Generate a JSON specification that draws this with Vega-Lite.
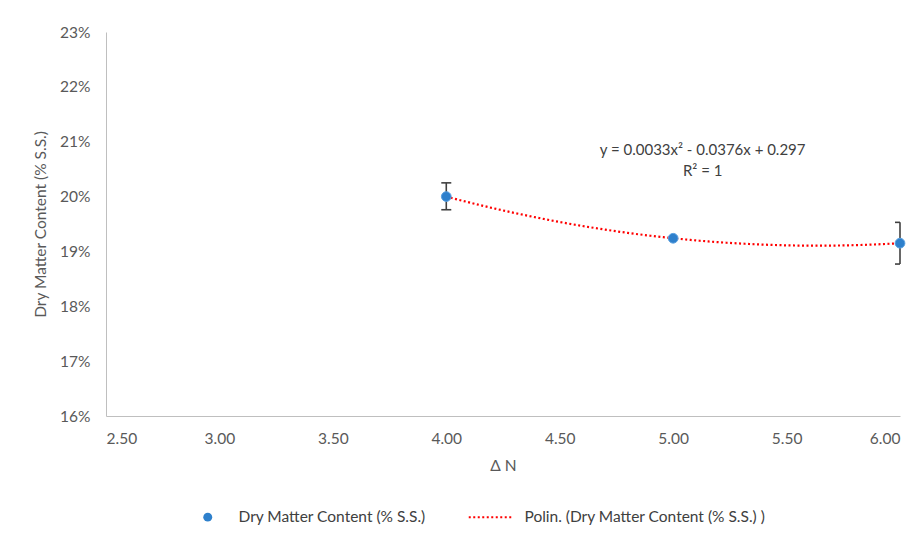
{
  "$schema": "https://vega.github.io/schema/vega-lite/v6.json",
  "width": 794,
  "height": 384,
  "autosize": {"type": "none"},
  "padding": {"left": 106, "top": 32, "right": 22, "bottom": 119},
  "background": "white",
  "config": {
    "view": {"stroke": null},
    "font": "Lato",
    "axis": {
      "grid": false,
      "ticks": false,
      "domainColor": "#bfbfbf",
      "domainWidth": 1,
      "labelColor": "#595959",
      "labelFontSize": 15.5,
      "titleColor": "#595959",
      "titleFontSize": 15.5,
      "titleFontWeight": "normal",
      "titleFont": "Lato",
      "labelFont": "Lato"
    },
    "legend": {
      "labelFont": "Lato",
      "labelFontSize": 15.5,
      "labelColor": "#404040",
      "labelLimit": 0
    }
  },
  "datasets": {
    "pts": [
      {"x": 4, "y": 0.2000, "lo": 0.1976, "hi": 0.2025, "series": "Dry Matter Content (% S.S.)"},
      {"x": 5, "y": 0.1924, "series": "Dry Matter Content (% S.S.)"},
      {"x": 6, "y": 0.1915, "lo": 0.1877, "hi": 0.1953, "series": "Dry Matter Content (% S.S.)"}
    ],
    "trend": [
      {"x": 4.0, "y": 0.20000, "series": "Polin. (Dry Matter Content (% S.S.) )"},
      {"x": 4.1, "y": 0.19894, "series": "Polin. (Dry Matter Content (% S.S.) )"},
      {"x": 4.2, "y": 0.19794, "series": "Polin. (Dry Matter Content (% S.S.) )"},
      {"x": 4.3, "y": 0.19702, "series": "Polin. (Dry Matter Content (% S.S.) )"},
      {"x": 4.4, "y": 0.19616, "series": "Polin. (Dry Matter Content (% S.S.) )"},
      {"x": 4.5, "y": 0.19536, "series": "Polin. (Dry Matter Content (% S.S.) )"},
      {"x": 4.6, "y": 0.19464, "series": "Polin. (Dry Matter Content (% S.S.) )"},
      {"x": 4.7, "y": 0.19398, "series": "Polin. (Dry Matter Content (% S.S.) )"},
      {"x": 4.8, "y": 0.19338, "series": "Polin. (Dry Matter Content (% S.S.) )"},
      {"x": 4.9, "y": 0.19286, "series": "Polin. (Dry Matter Content (% S.S.) )"},
      {"x": 5.0, "y": 0.19240, "series": "Polin. (Dry Matter Content (% S.S.) )"},
      {"x": 5.1, "y": 0.19201, "series": "Polin. (Dry Matter Content (% S.S.) )"},
      {"x": 5.2, "y": 0.19168, "series": "Polin. (Dry Matter Content (% S.S.) )"},
      {"x": 5.3, "y": 0.19143, "series": "Polin. (Dry Matter Content (% S.S.) )"},
      {"x": 5.4, "y": 0.19124, "series": "Polin. (Dry Matter Content (% S.S.) )"},
      {"x": 5.5, "y": 0.19111, "series": "Polin. (Dry Matter Content (% S.S.) )"},
      {"x": 5.6, "y": 0.19106, "series": "Polin. (Dry Matter Content (% S.S.) )"},
      {"x": 5.7, "y": 0.19107, "series": "Polin. (Dry Matter Content (% S.S.) )"},
      {"x": 5.8, "y": 0.19114, "series": "Polin. (Dry Matter Content (% S.S.) )"},
      {"x": 5.9, "y": 0.19129, "series": "Polin. (Dry Matter Content (% S.S.) )"},
      {"x": 6.0, "y": 0.19150, "series": "Polin. (Dry Matter Content (% S.S.) )"}
    ],
    "notes": [
      {"x": 5.13, "y": 0.2085, "text": "y = 0.0033x² - 0.0376x + 0.297"},
      {"x": 5.13, "y": 0.2047, "text": "R² = 1"}
    ]
  },
  "layer": [
    {
      "data": {"name": "pts"},
      "transform": [{"filter": "isValid(datum.lo)"}],
      "mark": {"type": "rule", "color": "#404040", "strokeWidth": 1.6},
      "encoding": {
        "x": {"field": "x", "type": "quantitative", "scale": {"domain": [2.5, 6], "nice": false},
          "axis": {"values": [2.5, 3, 3.5, 4, 4.5, 5, 5.5, 6], "format": ".2f", "labelPadding": 15, "title": "Δ N", "titlePadding": 12}},
        "y": {"field": "lo", "type": "quantitative", "scale": {"domain": [0.16, 0.23], "nice": false},
          "axis": {"values": [0.16, 0.17, 0.18, 0.19, 0.2, 0.21, 0.22, 0.23], "format": ".0%", "labelPadding": 16, "title": "Dry Matter Content (% S.S.)", "titlePadding": 11}},
        "y2": {"field": "hi"}
      }
    },
    {
      "data": {"name": "pts"},
      "transform": [{"filter": "isValid(datum.lo)"}],
      "mark": {"type": "point", "shape": "stroke", "size": 100, "stroke": "#404040", "strokeWidth": 1.6, "clip": true, "opacity": 1},
      "encoding": {
        "x": {"field": "x", "type": "quantitative"},
        "y": {"field": "lo", "type": "quantitative"}
      }
    },
    {
      "data": {"name": "pts"},
      "transform": [{"filter": "isValid(datum.hi)"}],
      "mark": {"type": "point", "shape": "stroke", "size": 100, "stroke": "#404040", "strokeWidth": 1.6, "clip": true, "opacity": 1},
      "encoding": {
        "x": {"field": "x", "type": "quantitative"},
        "y": {"field": "hi", "type": "quantitative"}
      }
    },
    {
      "data": {"name": "trend"},
      "mark": {"type": "line", "strokeDash": [2, 2.5], "strokeWidth": 2.2, "interpolate": "monotone"},
      "encoding": {
        "x": {"field": "x", "type": "quantitative"},
        "y": {"field": "y", "type": "quantitative"},
        "color": {"field": "series", "type": "nominal",
          "scale": {"domain": ["Dry Matter Content (% S.S.)", "Polin. (Dry Matter Content (% S.S.) )"], "range": ["#2E80CC", "#FF0000"]},
          "legend": {
            "orient": "none",
            "legendX": 94,
            "legendY": 477,
            "direction": "horizontal",
            "title": null,
            "labelOffset": 23,
            "columnPadding": 38,
            "encode": {
              "symbols": {
                "update": {
                  "shape": {"signal": "datum.value === 'Dry Matter Content (% S.S.)' ? 'circle' : 'M-1,0H0.8'"},
                  "size": {"signal": "datum.value === 'Dry Matter Content (% S.S.)' ? 80 : 2500"},
                  "strokeDash": {"signal": "datum.value === 'Dry Matter Content (% S.S.)' ? [1,0] : [2,2.5]"},
                  "strokeWidth": {"signal": "datum.value === 'Dry Matter Content (% S.S.)' ? 0 : 2"},
                  "fill": {"signal": "datum.value === 'Dry Matter Content (% S.S.)' ? '#2E80CC' : 'transparent'"},
                  "stroke": {"signal": "datum.value === 'Dry Matter Content (% S.S.)' ? '#2E80CC' : '#FF0000'"},
                  "opacity": {"value": 1}
                }
              }
            }
          }
        }
      }
    },
    {
      "data": {"name": "pts"},
      "mark": {"type": "point", "filled": true, "size": 95, "opacity": 1, "stroke": "#5AA0E0", "strokeWidth": 1},
      "encoding": {
        "x": {"field": "x", "type": "quantitative"},
        "y": {"field": "y", "type": "quantitative"},
        "color": {"field": "series", "type": "nominal"}
      }
    },
    {
      "data": {"name": "notes"},
      "mark": {"type": "text", "fontSize": 15, "color": "#404040", "font": "Lato", "align": "center", "baseline": "middle"},
      "encoding": {
        "x": {"field": "x", "type": "quantitative"},
        "y": {"field": "y", "type": "quantitative"},
        "text": {"field": "text", "type": "nominal"}
      }
    }
  ]
}
